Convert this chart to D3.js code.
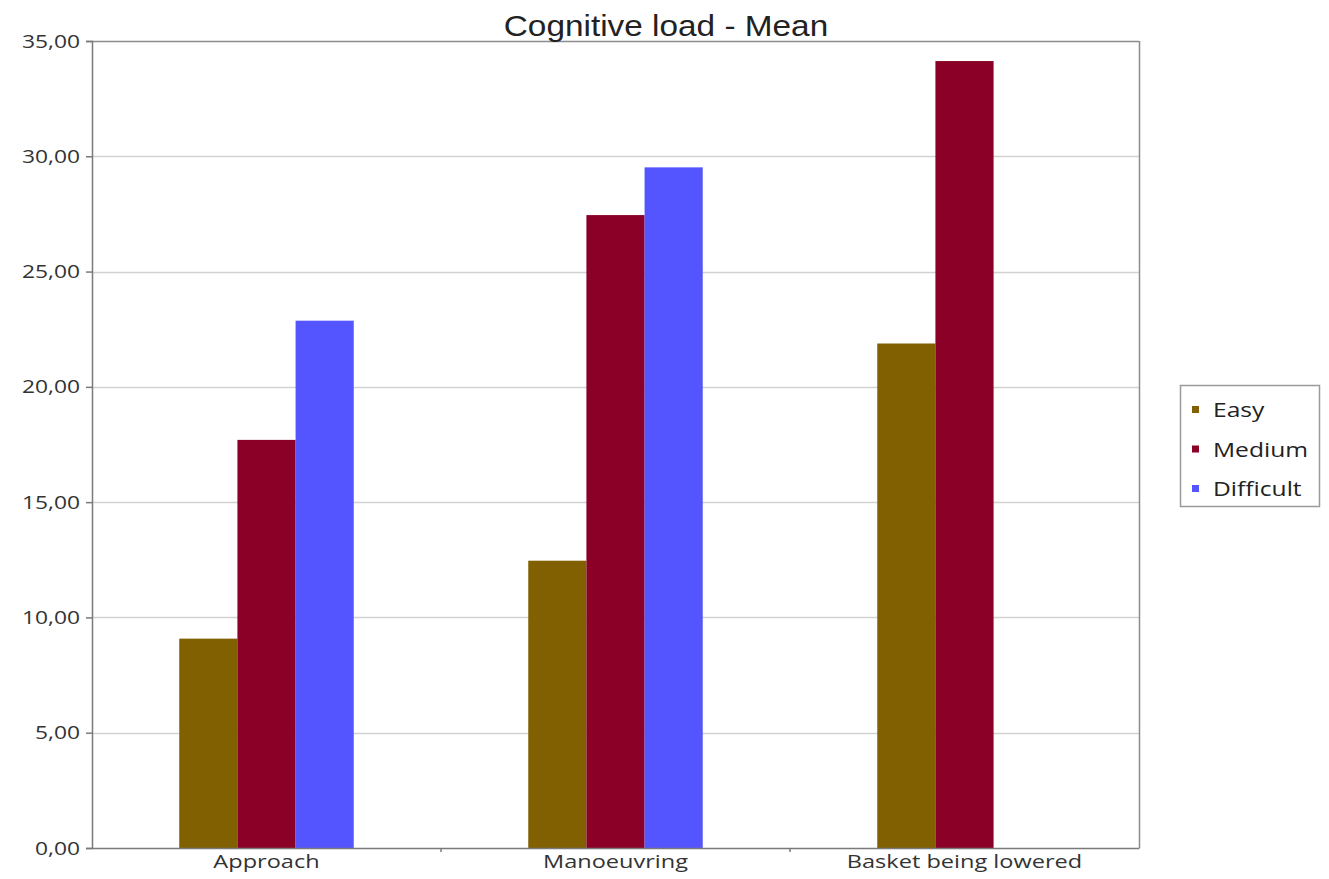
<!DOCTYPE html>
<html>
<head>
<meta charset="utf-8">
<script src="https://cdn.jsdelivr.net/npm/d3@7"></script>
<style>
  html, body { margin: 0; padding: 0; background: #fff; }
  svg { display: block; }
</style>
</head>
<body>
<svg id="chart" width="1329" height="879"></svg>
<script>
const title = "Cognitive load - Mean";
const categories = ["Approach", "Manoeuvring", "Basket being lowered"];
const seriesNames = ["Easy", "Medium", "Difficult"];
const easyValues = [9.08, 12.46, 21.88];
const mediumValues = [17.70, 27.45, 34.13];
const difficultValues = [22.87, 29.52, null];
const yTicks = [0, 5, 10, 15, 20, 25, 30, 35];
const seriesColors = ["#806000", "#8a0026", "#5555ff"];

const seriesValues = [easyValues, mediumValues, difficultValues];

const svg = d3.select("#chart");
const plot = { left: 92, right: 1139, top: 41, bottom: 848 };
const FONT = "'Open Sans', 'Noto Sans', sans-serif";

const x0 = d3.scaleBand().domain(categories).range([plot.left, plot.right])
  .paddingInner(0.5).paddingOuter(0.25);
const x1 = d3.scaleBand().domain(seriesNames).range([0, x0.bandwidth()]);
const y = d3.scaleLinear().domain([0, 35]).range([plot.bottom, plot.top]);
const color = d3.scaleOrdinal().domain(seriesNames).range(seriesColors);
const fmt = v => d3.format(".2f")(v).replace(".", ",");

// gridlines
svg.append("g").selectAll("line").data(yTicks.filter(d => d > 0)).join("line")
  .attr("x1", plot.left).attr("x2", plot.right)
  .attr("y1", d => Math.round(y(d)) + 0.5).attr("y2", d => Math.round(y(d)) + 0.5)
  .attr("stroke", d => d === 35 ? "#8c8c8c" : "#d2d2d2").attr("stroke-width", 1.5);

// right border
svg.append("line").attr("x1", plot.right + 0.5).attr("x2", plot.right + 0.5)
  .attr("y1", plot.top).attr("y2", plot.bottom)
  .attr("stroke", "#8c8c8c").attr("stroke-width", 1.5);

// bars
const data = [];
categories.forEach((c, i) => seriesNames.forEach((s, j) => {
  const v = seriesValues[j][i];
  if (v != null) data.push({ c, s, v });
}));
svg.append("g").selectAll("rect").data(data).join("rect")
  .attr("x", d => x0(d.c) + x1(d.s))
  .attr("width", x1.bandwidth())
  .attr("y", d => y(d.v))
  .attr("height", d => y(0) - y(d.v))
  .attr("fill", d => color(d.s));

// y axis
const yAxis = svg.append("g").attr("transform", `translate(${plot.left},0)`)
  .call(d3.axisLeft(y).tickValues(yTicks).tickFormat(fmt).tickSize(6).tickPadding(6));
yAxis.select(".domain").attr("stroke", "#7a7a7a").attr("stroke-width", 1.5);
yAxis.selectAll(".tick line").attr("stroke", "#7a7a7a").attr("stroke-width", 1.5);
yAxis.selectAll("text").attr("font-family", FONT)
  .attr("font-size", 19).attr("fill", "#333")
  .attr("x", 0).attr("transform", "translate(-12,0) scale(1.2,1)");

// x axis
const xAxis = svg.append("g").attr("transform", `translate(0,${plot.bottom})`)
  .call(d3.axisBottom(x0).tickSize(0).tickPadding(6).tickSizeOuter(0));
xAxis.select(".domain").attr("stroke", "#7a7a7a").attr("stroke-width", 1.5);
xAxis.selectAll("text").attr("font-family", FONT)
  .attr("font-size", 19).attr("fill", "#333")
  .attr("transform", "scale(1.24,1)");
// boundary tick marks between categories
const boundaries = categories.slice(1).map(c => x0(c) - x0.step() * x0.paddingInner() / 2);
svg.append("g").selectAll("line").data(boundaries).join("line")
  .attr("x1", d => d).attr("x2", d => d)
  .attr("y1", plot.bottom).attr("y2", plot.bottom + 4)
  .attr("stroke", "#7a7a7a").attr("stroke-width", 1.5);

// title
svg.append("text").attr("transform", "translate(666,36) scale(1.15,1)")
  .attr("text-anchor", "middle")
  .attr("font-family", "'Liberation Sans', Arial, sans-serif").attr("font-size", 29)
  .attr("fill", "#222").text(title);

// legend
const lg = svg.append("g").attr("transform", "translate(1180,385)");
lg.append("rect").attr("x", 0.5).attr("y", 0.5).attr("width", 139).attr("height", 121)
  .attr("fill", "#fff").attr("stroke", "#9a9a9a").attr("stroke-width", 1.5);
const items = lg.selectAll("g.item").data(seriesNames).join("g")
  .attr("transform", (d, i) => `translate(0,${25 + i * 39.5})`);
items.append("rect").attr("x", 12).attr("y", -4).attr("width", 7).attr("height", 7)
  .attr("fill", d => color(d));
items.append("text").attr("transform", "translate(33,0) scale(1.23,1)").attr("dy", "0.35em")
  .attr("font-family", FONT).attr("font-size", 20)
  .attr("fill", "#222").text(d => d);
</script>
</body>
</html>
